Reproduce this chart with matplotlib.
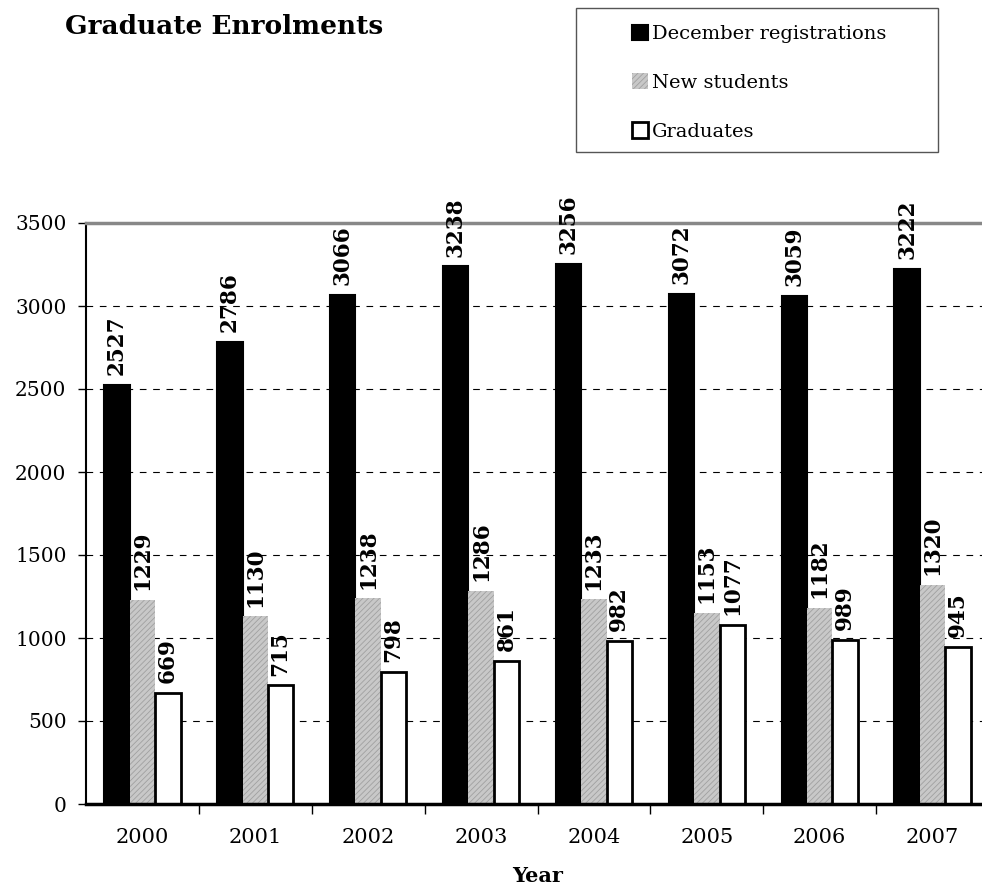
import numpy as np
import matplotlib
matplotlib.use('Agg')
from matplotlib import pyplot as plt
from matplotlib.patches import Rectangle

years = ['2000', '2001', '2002', '2003', '2004', '2005', '2006', '2007']
december = [2527, 2786, 3066, 3238, 3256, 3072, 3059, 3222]
new_students = [1229, 1130, 1238, 1286, 1233, 1153, 1182, 1320]
graduates = [669, 715, 798, 861, 982, 1077, 989, 945]

plt.rcParams['font.family'] = 'DejaVu Serif'
plt.rcParams['hatch.linewidth'] = 0.6

fig = plt.figure(figsize=(9.82, 8.92), dpi=100)
ax = fig.add_axes([86 / 982, 88 / 892, 903 / 982, 581 / 892])

x = np.arange(len(years))
w = 0.225
b1 = ax.bar(x - w, december, w, color='black', edgecolor='black', linewidth=1.5,
            label='December registrations')
b2 = ax.bar(x, new_students, w, color='#c8c8c8', edgecolor='#a0a0a0', hatch='//////',
            linewidth=0, label='New students')
b3 = ax.bar(x + w, graduates, w, color='white', edgecolor='black', linewidth=2,
            label='Graduates')

for bars, vals in [(b1, december), (b2, new_students), (b3, graduates)]:
    for r, v in zip(bars, vals):
        ax.annotate(str(v), (r.get_x() + r.get_width() / 2, v), xytext=(0, 7),
                    textcoords='offset points', rotation=90, ha='center', va='bottom',
                    fontsize=15.5, fontweight='bold')

ax.set_xlim(-0.5, len(years) - 0.5)
ax.set_ylim(0, 3500)
ax.set_yticks(range(0, 3501, 500))
ax.tick_params(axis='y', labelsize=14.5, length=6, width=1, pad=8)
ax.set_xticks(x)
ax.set_xticklabels(years)
ax.set_xticks(x[:-1] + 0.5, minor=True)
ax.tick_params(axis='x', which='major', length=0, labelsize=15, pad=17)
ax.tick_params(axis='x', which='minor', length=7, width=1)

ax.set_axisbelow(True)
ax.yaxis.grid(True, color='black', linestyle=(0, (6, 6)), linewidth=0.8)
ax.spines['top'].set_color('#888888')
ax.spines['top'].set_linewidth(2.5)
ax.spines['left'].set_linewidth(1.5)
ax.spines['bottom'].set_linewidth(2.5)
ax.spines['right'].set_visible(False)

ax.set_xlabel('Year', fontsize=15, fontweight='bold', labelpad=14)

fig.text(65 / 982, 1 - 27 / 892, 'Graduate Enrolments', fontsize=19, fontweight='bold',
         va='center', ha='left')

# legend box drawn separately so it can be wider than its contents
fig.patches.append(Rectangle((576 / 982, 1 - 152 / 892), 362 / 982, 144 / 892,
                             transform=fig.transFigure, fill=False,
                             edgecolor='#555555', linewidth=1))
fig.legend(handles=[b1, b2, b3], loc='upper left', bbox_to_anchor=(624 / 982, 1 - 17 / 892),
           fontsize=14, frameon=False,
           handlelength=0.85, handleheight=0.85, handletextpad=0.2, labelspacing=1.55,
           borderpad=0.4, borderaxespad=0)

fig.savefig('out.png', dpi=100)
